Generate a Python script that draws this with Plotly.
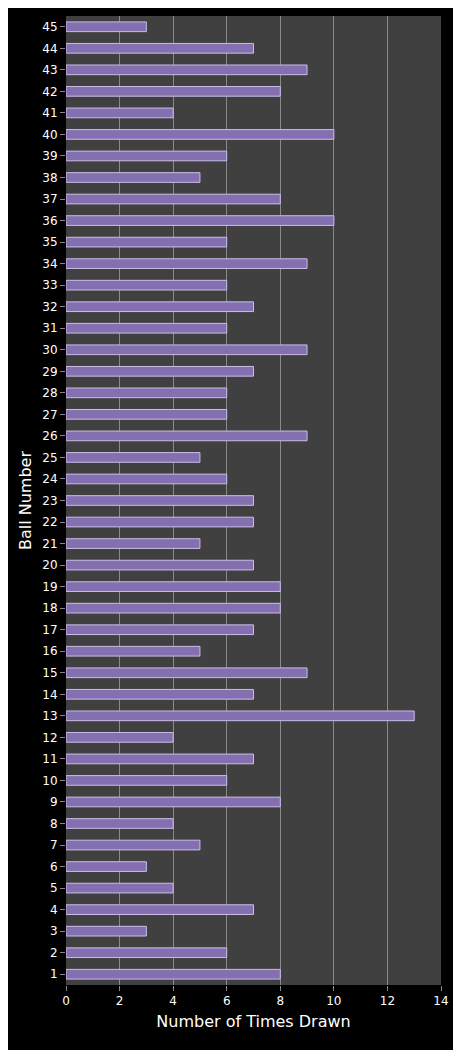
import plotly.graph_objects as go

balls = list(range(1, 46))
counts = [8, 6, 3, 7, 4, 3, 5, 4, 8, 6,
          7, 4, 13, 7, 9, 5, 7, 8, 8, 7,
          5, 7, 7, 6, 5, 9, 6, 6, 7, 9,
          6, 7, 6, 9, 6, 10, 8, 5, 6, 10,
          4, 8, 9, 7, 3]

fig = go.Figure(go.Bar(
    x=counts, y=balls, orientation="h", width=0.45,
    marker=dict(color="#8470b0", line=dict(color="#c9bde6", width=1)),
))

fig.update_layout(
    width=461, height=1050,
    paper_bgcolor="black", plot_bgcolor="#404040",
    margin=dict(l=58, r=28, t=8, b=73),
    font=dict(family="DejaVu Sans", color="white", size=12),
    showlegend=False,
    xaxis=dict(range=[0, 14], dtick=2, showgrid=True, gridcolor="#8a8a8a",
               gridwidth=1, zeroline=False, ticks="outside", tickcolor="#888",
               automargin=False,
               title=dict(text="Number of Times Drawn", font=dict(size=16), standoff=8)),
    yaxis=dict(range=[0.5, 45.5], dtick=1, showgrid=False, zeroline=False,
               ticks="outside", tickcolor="#888", automargin=False,
               title=dict(text="Ball Number", font=dict(size=16), standoff=6)),
)

fig.write_html("out.html")
